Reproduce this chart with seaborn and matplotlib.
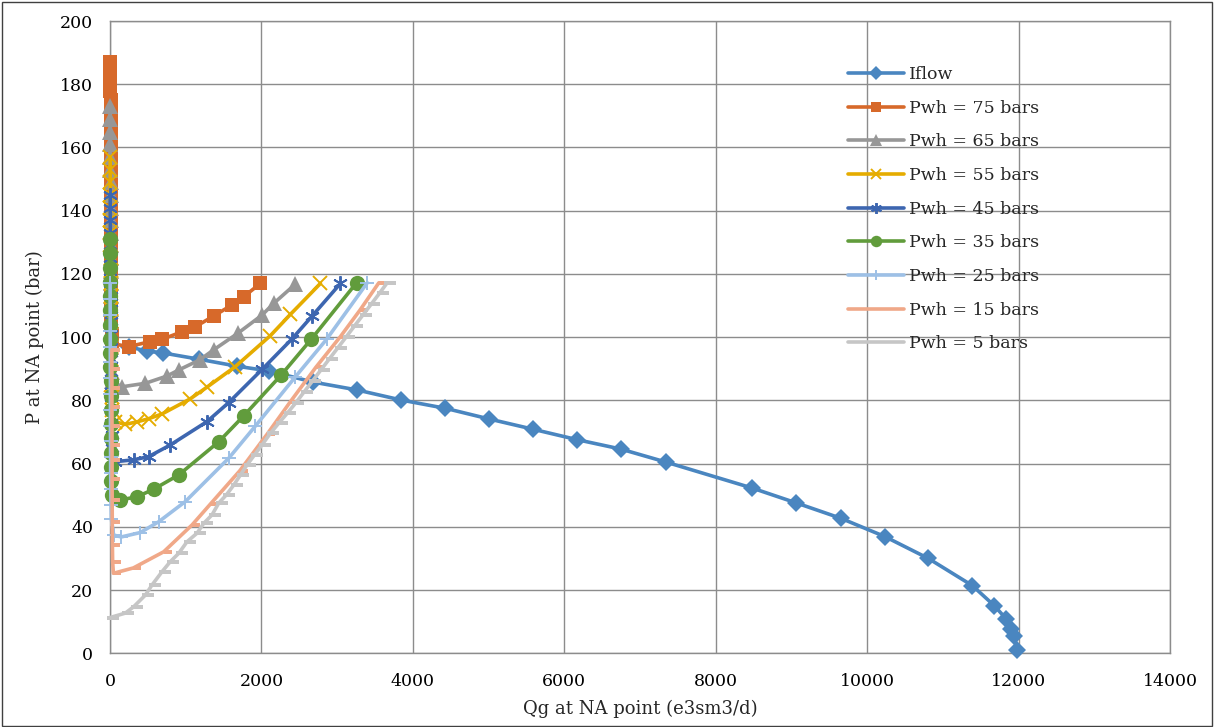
import numpy as np
import pandas as pd
import matplotlib
matplotlib.use("Agg")
import matplotlib.pyplot as plt
from matplotlib.path import Path
from matplotlib.patches import Rectangle
import seaborn as sns

# ---- data: gas rate (e3sm3/d) vs pressure at NA point (bar) ----
iflow_q = [250, 490, 700, 1180, 1680, 2100, 2680, 3262, 3847, 4428, 5010, 5582, 6164,
           6746, 7340, 8477, 9059, 9653, 10235, 10808, 11390, 11681, 11835, 11901, 11937, 11981]
iflow_p = [96.9, 95.6, 95.0, 93.0, 90.8, 89.3, 85.8, 83.3, 80.1, 77.5, 74.1, 70.9, 67.6,
           64.6, 60.5, 52.3, 47.6, 42.7, 36.9, 30.0, 21.4, 15.0, 10.9, 7.6, 5.5, 1.0]

pwh75_q = [5, 5, 6, 6, 7, 7, 8, 8, 9, 9, 10, 10, 11, 11, 12, 12, 13, 13, 14, 14, 15, 16, 18, 20, 24,
           246, 533, 687, 951, 1128, 1370, 1612, 1766, 1987]
pwh75_p = [187, 184, 181, 178, 175, 172, 169, 165, 161, 157, 153, 149, 145, 141, 137, 133, 129, 125,
           121, 117, 113, 109, 105, 101, 98, 97.0, 98.6, 99.3, 101.7, 103.3, 106.7, 110.2, 112.8, 117.0]

pwh65_q = [4, 4, 5, 5, 6, 6, 7, 7, 8, 8, 9, 9, 10, 10, 11, 11, 12, 13, 14, 15, 17, 20, 25,
           159, 467, 753, 907, 1184, 1370, 1687, 2009, 2163, 2450]
pwh65_p = [173, 169, 165, 161, 157, 153, 149, 145, 141, 137, 133, 129, 125, 121, 117, 113, 109, 105,
           101, 97, 93, 89, 86, 84.3, 85.4, 87.7, 89.6, 92.8, 96.0, 101.2, 107.0, 110.7, 116.8]

pwh55_q = [3, 3, 4, 4, 5, 5, 6, 6, 7, 7, 8, 8, 9, 10, 11, 12, 13, 15, 18, 22, 28,
           60, 200, 357, 510, 687, 1061, 1282, 1656, 2119, 2383, 2780]
pwh55_p = [157, 153, 149, 145, 141, 137, 133, 129, 125, 121, 117, 113, 109, 105, 101, 97, 93, 89, 85,
           81, 77, 73.3, 72.4, 73.2, 74.2, 75.7, 80.5, 84.2, 90.7, 100.5, 107.2, 117.0]

pwh45_q = [3, 3, 4, 4, 5, 5, 6, 6, 7, 7, 8, 8, 9, 10, 11, 12, 13, 15, 18, 22, 28,
           70, 312, 510, 797, 1282, 1568, 2009, 2406, 2670, 3044]
pwh45_p = [145, 141, 137, 133, 129, 125, 121, 117, 113, 109, 105, 101, 97, 93, 89, 85, 81, 77, 73,
           69, 65, 60.6, 61.2, 62.2, 65.9, 73.3, 79.3, 89.8, 99.5, 106.7, 117.0]

pwh35_q = [2, 2, 3, 3, 4, 4, 5, 5, 6, 6, 7, 7, 8, 9, 10, 12, 14, 18,
           30, 136, 357, 577, 907, 1436, 1766, 2260, 2657, 3256]
pwh35_p = [131, 126.5, 122, 117.5, 113, 108.5, 104, 99.5, 95, 90.5, 86, 81.5, 77, 72.5, 68, 63.5,
           59, 54.5, 50.1, 48.5, 49.5, 51.9, 56.4, 66.9, 75.1, 88.0, 99.3, 117.2]

pwh25_q = [2, 2, 3, 3, 4, 4, 5, 5, 6, 6, 7, 8, 9, 11, 14, 18,
           48, 150, 401, 643, 995, 1568, 1921, 2450, 2860, 3398]
pwh25_p = [117, 112, 107, 102, 97, 92, 87, 82, 77, 72, 67, 62, 57, 52, 47, 42.5,
           37.4, 36.8, 38.2, 41.6, 48.0, 61.7, 71.9, 87.5, 99.3, 117.2]

pwh15_q = [25, 25, 26, 26, 27, 27, 28, 28, 29, 30, 32, 35,
           45, 309, 709, 1084, 1326, 1713, 2075, 2383, 2720, 3044, 3300, 3551]
pwh15_p = [96, 90, 84, 78, 72, 66, 61, 55, 48.5, 41.6, 34.3, 29.0,
           25.3, 27.0, 32.1, 40.6, 47.2, 57.7, 69.3, 79.6, 90.5, 100.2, 108.5, 117.2]

pwh5_q = [0, 202, 312, 467, 555, 687, 797, 907, 1018, 1150, 1238, 1348, 1436, 1537, 1634, 1722,
          1810, 1907, 2010, 2119, 2229, 2340, 2450, 2558, 2670, 2782, 2893, 3005, 3117, 3228,
          3340, 3452, 3563, 3661]
pwh5_p = [11.3, 12.7, 14.7, 18.4, 21.6, 25.8, 29.0, 31.6, 35.3, 38.0, 41.1, 43.8, 47.5, 50.1,
          53.2, 56.4, 59.6, 62.7, 66.0, 69.6, 72.8, 75.9, 79.1, 82.5, 86.0, 89.5, 93.0, 96.5,
          100.0, 103.5, 107.0, 110.5, 114.0, 117.2]

x_ticks = [0, 2000, 4000, 6000, 8000, 10000, 12000, 14000]
y_ticks = [0, 20, 40, 60, 80, 100, 120, 140, 160, 180, 200]

# ---- marker shapes ----
dash_right = Path([(0, -0.25), (1, -0.25), (1, 0.25), (0, 0.25), (0, -0.25)],
                  [Path.MOVETO, Path.LINETO, Path.LINETO, Path.LINETO, Path.CLOSEPOLY])
dash_wide = Path([(-0.3, -0.22), (1, -0.22), (1, 0.22), (-0.3, 0.22), (-0.3, -0.22)],
                 [Path.MOVETO, Path.LINETO, Path.LINETO, Path.LINETO, Path.CLOSEPOLY])

series = [
    ("Iflow", iflow_q, iflow_p, "#4A86C0", "D", 9.0, 0),
    ("Pwh = 75 bars", pwh75_q, pwh75_p, "#D7692A", "s", 10.5, 0),
    ("Pwh = 65 bars", pwh65_q, pwh65_p, "#979797", "^", 11.0, 0),
    ("Pwh = 55 bars", pwh55_q, pwh55_p, "#E5AC00", "x", 10.0, 1.4),
    ("Pwh = 45 bars", pwh45_q, pwh45_p, "#3D66B0", (6, 2, 0), 10.5, 1.4),
    ("Pwh = 35 bars", pwh35_q, pwh35_p, "#619C3C", "o", 11.0, 0),
    ("Pwh = 25 bars", pwh25_q, pwh25_p, "#9DC0E6", "+", 10.5, 1.4),
    ("Pwh = 15 bars", pwh15_q, pwh15_p, "#F0A888", dash_right, 11.0, 0),
    ("Pwh = 5 bars", pwh5_q, pwh5_p, "#C6C6C6", dash_wide, 13.0, 0),
]

sns.set_theme(style="white")
plt.rcParams["font.family"] = ["DejaVu Serif"]

fig = plt.figure(figsize=(12.14, 7.27), dpi=100)
ax = fig.add_axes([0.0906, 0.1014, 0.8732, 0.8697])

for label, q, p, color, marker, ms, mew in series:
    df = pd.DataFrame({"q": q, "p": p})
    sns.lineplot(data=df, x="q", y="p", sort=False, estimator=None, ax=ax,
                 color=color, linewidth=2.6, marker=marker, markersize=ms,
                 markeredgewidth=mew, markeredgecolor=color, markerfacecolor=color,
                 label=label, clip_on=False)

ax.set_xlim(0, 14000)
ax.set_ylim(0, 200)
ax.set_xticks(x_ticks)
ax.set_yticks(y_ticks)
ax.grid(True, color="#8C8C8C", linewidth=1.0)
ax.set_axisbelow(True)
for s in ax.spines.values():
    s.set_color("#8C8C8C")
    s.set_linewidth(1.0)
    s.set_zorder(0.5)
ax.tick_params(axis="both", direction="out", length=4, width=1.0, color="#8C8C8C",
               labelsize=12.5, labelcolor="black")
ax.tick_params(axis="x", pad=10)
ax.tick_params(axis="y", pad=8)
ax.set_xlabel("Qg at NA point (e3sm3/d)", fontsize=13, labelpad=7)
ax.set_ylabel("P at NA point (bar)", fontsize=13, labelpad=12)

leg = ax.legend(loc="upper left", bbox_to_anchor=(0.6985, 0.909),
                bbox_transform=fig.transFigure, frameon=False, fontsize=12.5,
                handlelength=3.2, handletextpad=0.3, labelspacing=0.96, borderpad=0,
                borderaxespad=0, markerscale=0.75)

fig.patches.append(Rectangle((0.0015, 0.002), 0.997, 0.995, transform=fig.transFigure,
                             fill=False, edgecolor="#404040", linewidth=1.0))

fig.savefig("out.png", dpi=100)
